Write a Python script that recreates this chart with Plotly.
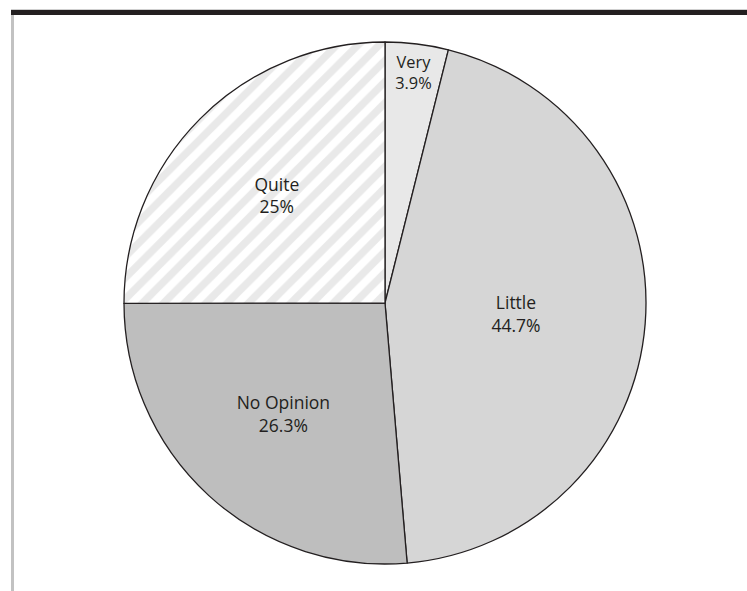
import plotly.graph_objects as go

W, H = 747, 591

labels = ["Very", "Little", "No Opinion", "Quite"]
values = [3.9, 44.7, 26.3, 25.0]
pct_text = ["3.9%", "44.7%", "26.3%", "25%"]
colors = ["#e8e8e8", "#d6d6d6", "#bebebe", "#ffffff"]
shapes_pattern = ["", "", "", "/"]

fig = go.Figure()
fig.add_trace(go.Pie(
    labels=labels,
    values=values,
    text=pct_text,
    texttemplate="%{label}<br>%{text}",
    textinfo="text",
    textposition="inside",
    insidetextorientation="horizontal",
    sort=False,
    direction="clockwise",
    rotation=0,
    hole=0,
    marker=dict(
        colors=colors,
        line=dict(color="#231f20", width=1.3),
        pattern=dict(shape=shapes_pattern, fgcolor="#d4d4d4", bgcolor="#ffffff",
                     size=15, solidity=0.5, fillmode="overlay"),
    ),
    textfont=dict(family="Open Sans, Noto Sans, sans-serif", size=17.5, color="#231f20"),
    domain=dict(x=[124 / W, 646 / W], y=[1 - 564 / H, 1 - 42 / H]),
    showlegend=False,
    hoverinfo="label+text",
))

fig.update_layout(
    width=W, height=H,
    margin=dict(l=0, r=0, t=0, b=0),
    paper_bgcolor="#ffffff",
    plot_bgcolor="#ffffff",
    shapes=[
        # top dark bar
        dict(type="rect", xref="paper", yref="paper",
             x0=11 / W, x1=1.0, y0=1 - 15 / H, y1=1 - 10 / H,
             fillcolor="#231f20", line=dict(width=0), layer="above"),
        # light line above bar
        dict(type="rect", xref="paper", yref="paper",
             x0=11 / W, x1=1.0, y0=1 - 10 / H, y1=1 - 9 / H,
             fillcolor="#cfcfcf", line=dict(width=0), layer="above"),
        # left gray border
        dict(type="rect", xref="paper", yref="paper",
             x0=11 / W, x1=14 / W, y0=0, y1=1 - 15 / H,
             fillcolor="#c2c2c2", line=dict(width=0), layer="above"),
    ],
)

fig.write_html("out.html")
